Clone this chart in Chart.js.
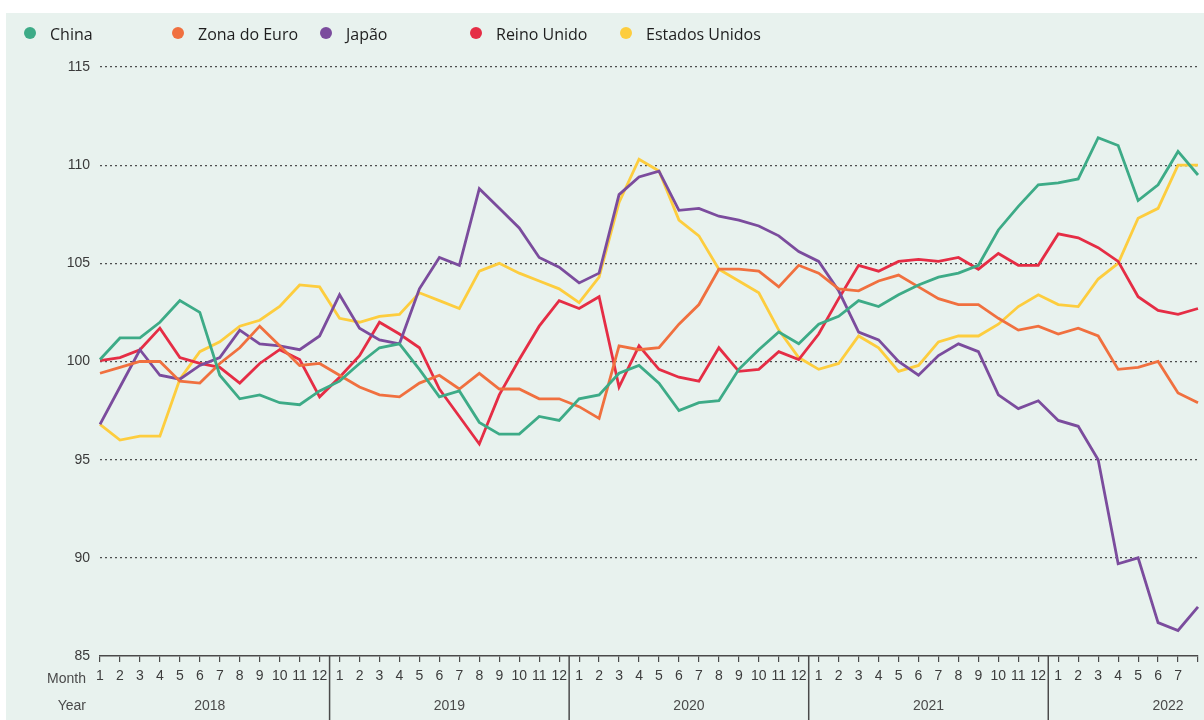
<!DOCTYPE html>
<html>
<head>
<meta charset="utf-8">
<script src="https://cdn.jsdelivr.net/npm/chart.js@4.4.1/dist/chart.umd.min.js"></script>
<style>
html,body{margin:0;padding:0;background:#fff;}
#wrap{position:relative;width:1204px;height:720px;}
</style>
</head>
<body>
<div id="wrap"><canvas id="c" width="1204" height="720"></canvas></div>
<script>
// ---- data ----
const years = ['2018', '2019', '2020', '2021', '2022'];
const monthLabels = ['1','2','3','4','5','6','7','8','9','10','11','12'];
const seriesNames = ['China', 'Zona do Euro', 'Japão', 'Reino Unido', 'Estados Unidos'];
const yTicks = [85, 90, 95, 100, 105, 110, 115];

const china = [100.1, 101.2, 101.2, 102.0, 103.1, 102.5, 99.3, 98.1, 98.3, 97.9, 97.8, 98.5,
  99.0, 99.9, 100.7, 100.9, 99.6, 98.2, 98.5, 96.9, 96.3, 96.3, 97.2, 97.0,
  98.1, 98.3, 99.4, 99.8, 98.9, 97.5, 97.9, 98.0, 99.6, 100.6, 101.5, 100.9,
  101.9, 102.3, 103.1, 102.8, 103.4, 103.9, 104.3, 104.5, 104.9, 106.7, 107.9, 109.0,
  109.1, 109.3, 111.4, 111.0, 108.2, 109.0, 110.7, 109.5];
const zonaEuro = [99.4, 99.7, 100.0, 100.0, 99.0, 98.9, 99.9, 100.7, 101.8, 100.8, 99.8, 99.9,
  99.3, 98.7, 98.3, 98.2, 98.9, 99.3, 98.6, 99.4, 98.6, 98.6, 98.1, 98.1,
  97.7, 97.1, 100.8, 100.6, 100.7, 101.9, 102.9, 104.7, 104.7, 104.6, 103.8, 104.9,
  104.5, 103.7, 103.6, 104.1, 104.4, 103.8, 103.2, 102.9, 102.9, 102.2, 101.6, 101.8,
  101.4, 101.7, 101.3, 99.6, 99.7, 100.0, 98.4, 97.9];
const japao = [96.8, 98.7, 100.6, 99.3, 99.1, 99.8, 100.2, 101.6, 100.9, 100.8, 100.6, 101.3,
  103.4, 101.7, 101.1, 100.9, 103.7, 105.3, 104.9, 108.8, 107.8, 106.8, 105.3, 104.8,
  104.0, 104.5, 108.5, 109.4, 109.7, 107.7, 107.8, 107.4, 107.2, 106.9, 106.4, 105.6,
  105.1, 103.6, 101.5, 101.1, 100.0, 99.3, 100.3, 100.9, 100.5, 98.3, 97.6, 98.0,
  97.0, 96.7, 95.0, 89.7, 90.0, 86.7, 86.3, 87.5];
const reinoUnido = [100.05, 100.2, 100.6, 101.7, 100.2, 99.9, 99.7, 98.9, 99.9, 100.6, 100.1, 98.2,
  99.2, 100.3, 102.0, 101.4, 100.7, 98.6, 97.2, 95.8, 98.3, 100.1, 101.8, 103.1,
  102.7, 103.3, 98.7, 100.8, 99.6, 99.2, 99.0, 100.7, 99.5, 99.6, 100.5, 100.1,
  101.4, 103.2, 104.9, 104.6, 105.1, 105.2, 105.1, 105.3, 104.7, 105.5, 104.9, 104.9,
  106.5, 106.3, 105.8, 105.1, 103.3, 102.6, 102.4, 102.7];
const estadosUnidos = [96.8, 96.0, 96.2, 96.2, 99.1, 100.5, 101.0, 101.8, 102.1, 102.8, 103.9, 103.8,
  102.2, 102.0, 102.3, 102.4, 103.5, 103.1, 102.7, 104.6, 105.0, 104.5, 104.1, 103.7,
  103.0, 104.3, 108.1, 110.3, 109.7, 107.2, 106.4, 104.7, 104.1, 103.5, 101.6, 100.2,
  99.6, 99.9, 101.3, 100.7, 99.5, 99.8, 101.0, 101.3, 101.3, 101.9, 102.8, 103.4,
  102.9, 102.8, 104.2, 105.0, 107.3, 107.8, 110.0, 110.0];

// ---- build ----
const seriesData = [china, zonaEuro, japao, reinoUnido, estadosUnidos];
const colors = ['#3dab87', '#f0703f', '#7b4c9d', '#e52d45', '#fdcd3e'];
const nPts = china.length;
const labels = [];
for (let i = 0; i < nPts; i++) {
  // the last point (2022 month 8) has no printed label in the source
  labels.push(i === nPts - 1 ? '' : monthLabels[i % 12]);
}

const AXIS_FONT = {family: "'Liberation Sans', Arial, sans-serif", size: 14};
const AXIS_COLOR = '#4a4a4a';

const panelPlugin = {
  id: 'panel',
  beforeDraw(chart) {
    const ctx = chart.ctx;
    ctx.save();
    ctx.fillStyle = '#ffffff';
    ctx.fillRect(0, 0, chart.width, chart.height);
    ctx.fillStyle = '#e8f2ee';
    ctx.fillRect(6, 13, chart.width - 6, chart.height - 13);
    ctx.restore();
  }
};

const decorPlugin = {
  id: 'decor',
  afterDraw(chart) {
    const ctx = chart.ctx;
    const xs = chart.scales.x;
    const area = chart.chartArea;
    const step = xs.getPixelForValue(1) - xs.getPixelForValue(0);
    ctx.save();
    // year separators and labels
    ctx.strokeStyle = AXIS_COLOR;
    ctx.lineWidth = 1.5;
    ctx.fillStyle = AXIS_COLOR;
    ctx.font = "14px 'Liberation Sans', Arial, sans-serif";
    ctx.textAlign = 'center';
    ctx.textBaseline = 'middle';
    years.forEach((yr, k) => {
      const start = k * 12;
      if (k > 0) {
        const xb = xs.getPixelForValue(start) - step / 2;
        ctx.beginPath();
        ctx.moveTo(xb, area.bottom);
        ctx.lineTo(xb, chart.height);
        ctx.stroke();
      }
      const xc = xs.getPixelForValue(start) + step * 5.5;
      ctx.fillText(yr, xc, 706);
    });
    ctx.textAlign = 'right';
    ctx.fillText('Month', 86, 679);
    ctx.fillText('Year', 86, 706);

    // legend
    const legendX = [30, 178, 326, 476, 626];
    ctx.font = "16px 'Open Sans', sans-serif";
    ctx.textAlign = 'left';
    seriesNames.forEach((name, i) => {
      ctx.fillStyle = colors[i];
      ctx.beginPath();
      ctx.arc(legendX[i], 33, 6, 0, Math.PI * 2);
      ctx.fill();
      ctx.fillStyle = '#1e1e1e';
      ctx.fillText(name, legendX[i] + 20, 35);
    });
    ctx.restore();
  }
};

new Chart(document.getElementById('c'), {
  type: 'line',
  data: {
    labels: labels,
    datasets: seriesNames.map((name, i) => ({
      label: name,
      data: seriesData[i],
      borderColor: colors[i],
      backgroundColor: colors[i],
      borderWidth: 2.8,
      pointRadius: 0,
      tension: 0,
      fill: false
    }))
  },
  options: {
    responsive: false,
    animation: false,
    devicePixelRatio: 1,
    layout: {padding: {top: 67, right: 6, left: 0, bottom: 0}},
    plugins: {
      legend: {display: false},
      tooltip: {enabled: false}
    },
    scales: {
      x: {
        type: 'category',
        offset: false,
        grid: {drawOnChartArea: false, drawTicks: true, tickLength: 6, color: AXIS_COLOR, lineWidth: 1.2},
        border: {display: true, color: AXIS_COLOR, width: 1.5},
        ticks: {autoSkip: false, maxRotation: 0, minRotation: 0, padding: 6, color: '#3c3c3c', font: AXIS_FONT},
        afterFit(scale) { scale.height = 64; }
      },
      y: {
        min: 85,
        max: 115,
        afterBuildTicks(scale) { scale.ticks = yTicks.map(v => ({value: v})); },
        grid: {
          drawTicks: false,
          color: (c) => c.tick && c.tick.value === 85 ? 'rgba(0,0,0,0)' : 'rgba(60,60,60,0.9)',
          lineWidth: 1.2
        },
        border: {display: false, dash: [2, 3]},
        ticks: {padding: 10, color: '#3a3a3a', font: AXIS_FONT},
        afterFit(scale) { scale.width = 100; }
      }
    }
  },
  plugins: [panelPlugin, decorPlugin]
});
</script>
</body>
</html>
